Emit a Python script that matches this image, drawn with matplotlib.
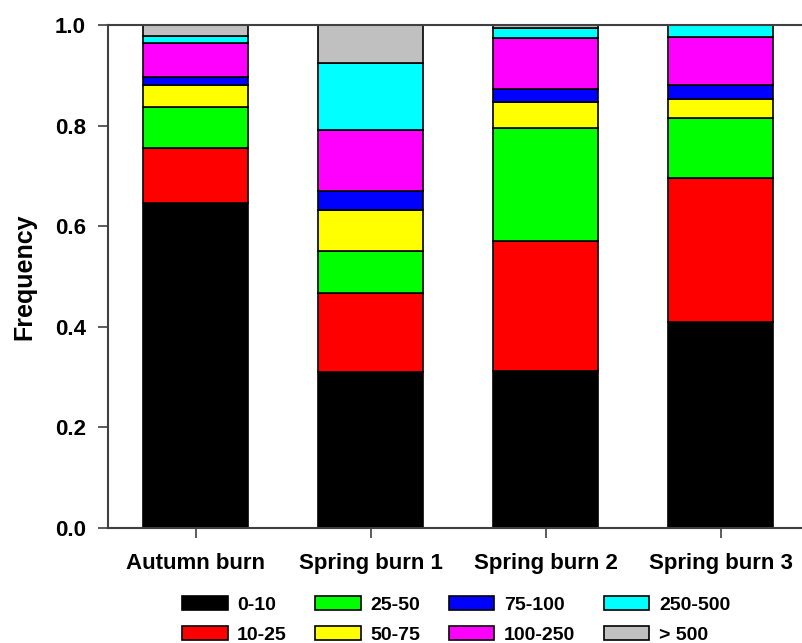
import matplotlib.pyplot as plt
import numpy as np

plt.rcParams['font.family'] = ['Liberation Sans', 'DejaVu Sans']
plt.rcParams['font.weight'] = 'bold'

sites = ['Autumn burn', 'Spring burn 1', 'Spring burn 2', 'Spring burn 3']
classes = ['0-10', '10-25', '25-50', '50-75', '75-100', '100-250', '250-500', '> 500']
colors = ['#000000', '#ff0000', '#00ff00', '#ffff00', '#0000ff', '#ff00ff', '#00ffff', '#c0c0c0']

# frequency of each size class per site (one list per class)
f_0_10 = [0.647, 0.311, 0.312, 0.410]
f_10_25 = [0.108, 0.156, 0.259, 0.286]
f_25_50 = [0.081, 0.084, 0.224, 0.119]
f_50_75 = [0.045, 0.081, 0.052, 0.038]
f_75_100 = [0.015, 0.038, 0.026, 0.028]
f_100_250 = [0.068, 0.121, 0.102, 0.096]
f_250_500 = [0.014, 0.134, 0.020, 0.023]
f_500 = [0.022, 0.075, 0.005, 0.000]

series = [f_0_10, f_10_25, f_25_50, f_50_75, f_75_100, f_100_250, f_250_500, f_500]

fig = plt.figure(figsize=(8.03, 6.43), dpi=100)
ax = fig.add_axes([108 / 803, 115 / 643, 706 / 803, 503 / 643])

x = np.arange(len(sites))
bottom = np.zeros(len(sites))
for vals, lab, col in zip(series, classes, colors):
    ax.bar(x, vals, width=0.6, bottom=bottom, color=col, edgecolor='black',
           linewidth=1.2, label=lab)
    bottom += np.array(vals)

ax.set_xlim(-0.5, 3.534)
ax.set_ylim(0, 1.0)
ax.set_yticks([0, 0.2, 0.4, 0.6, 0.8, 1.0])
ax.set_yticklabels(['0.0', '0.2', '0.4', '0.6', '0.8', '1.0'])
ax.set_xticks(x)
ax.set_xticklabels(sites)
ax.tick_params(labelsize=16, length=7, width=1.2, color='#404040', direction='out')
ax.tick_params(axis='y', pad=9)
ax.tick_params(axis='x', pad=11)
ax.set_ylabel('Frequency', fontsize=18, fontweight='bold', labelpad=13)
for s in ax.spines.values():
    s.set_color('#404040')
    s.set_linewidth(1.5)

ax.legend(ncol=4, loc='center', bbox_to_anchor=(456 / 803, 0.036),
          bbox_transform=fig.transFigure, frameon=False, fontsize=14,
          handlelength=2.35, handleheight=0.75, columnspacing=1.45,
          handletextpad=0.5, labelspacing=0.6)

fig.savefig('out.png', dpi=100)
